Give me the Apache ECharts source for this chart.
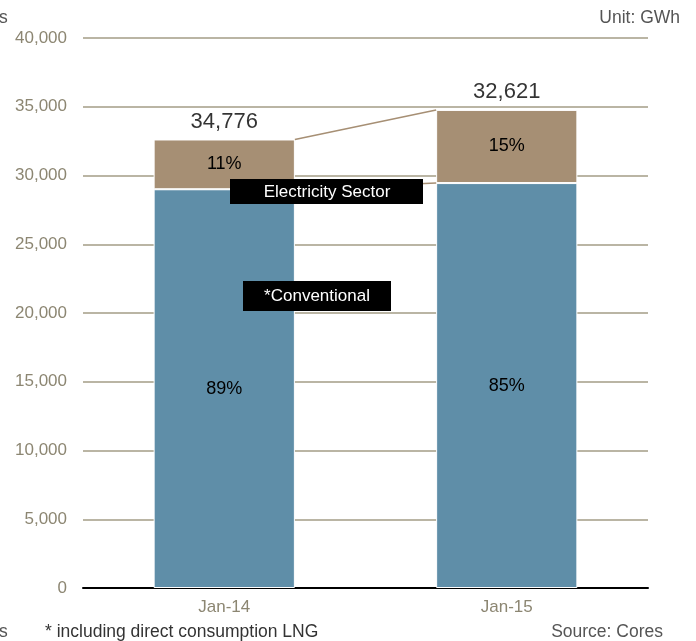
<!DOCTYPE html>
<html><head><meta charset="utf-8">
<script src="https://cdn.jsdelivr.net/npm/echarts@6/dist/echarts.min.js"></script>
<style>html,body{margin:0;padding:0;background:#fff}#c{width:696px;height:641px}</style>
</head><body><div id="c"></div>
<script>
var categories = ['Jan-14', 'Jan-15'];
var conventional = [29000, 29450];
var electricity = [3620, 5320];
var pctConventional = ['89%', '85%'];
var pctElectricity = ['11%', '15%'];
var totalLabels = ['34,776', '32,621'];
var yTicks = [0, 5000, 10000, 15000, 20000, 25000, 30000, 35000, 40000];

var totals = conventional.map(function (v, i) { return v + electricity[i]; });
var chart = echarts.init(document.getElementById('c'));
var font = 'Liberation Sans, Arial, sans-serif';
chart.setOption({
  animation: false,
  grid: { left: 83, right: 48, top: 38, bottom: 53 },
  xAxis: {
    type: 'category', data: categories,
    axisLine: { lineStyle: { color: '#000', width: 2 } },
    axisTick: { show: false },
    axisLabel: { color: '#8c8672', fontSize: 17, fontFamily: font, margin: 11 }
  },
  yAxis: {
    type: 'value', min: yTicks[0], max: yTicks[yTicks.length - 1], interval: 5000,
    axisLine: { show: false }, axisTick: { show: false },
    axisLabel: { color: '#8c8672', fontSize: 17, fontFamily: font, margin: 16,
      formatter: function (v) { return v.toLocaleString('en-US'); } },
    splitLine: { lineStyle: { color: '#a39c86', width: 1.6 } }
  },
  series: [
    { type: 'bar', stack: 's', barWidth: '50%', data: conventional,
      itemStyle: { color: '#5f8ea8', borderColor: '#fff', borderWidth: 1 },
      label: { show: true, position: 'inside', color: '#000', fontSize: 18, fontFamily: font,
        formatter: function (p) { return pctConventional[p.dataIndex]; } } },
    { type: 'bar', stack: 's', barWidth: '50%', data: electricity,
      itemStyle: { color: '#a68f74', borderColor: '#fff', borderWidth: 1 },
      label: { show: true, position: 'inside', color: '#000', fontSize: 18, fontFamily: font,
        formatter: function (p) { return pctElectricity[p.dataIndex]; } } },
    { type: 'scatter', symbolSize: 0, data: totals.map(function (t, i) { return [i, t]; }),
      label: { show: true, position: 'top', distance: 7, color: '#000', fontSize: 22, fontFamily: font,
        formatter: function (p) { return totalLabels[p.dataIndex]; } } }
  ]
});

function edge(i, v, side) {
  var p = chart.convertToPixel({ seriesIndex: 0 }, [i, v]);
  var band = chart.getModel().getComponent('xAxis', 0).axis.getBandWidth();
  return [p[0] + side * band * 0.25, p[1]];
}
var a1 = edge(0, totals[0], 1), b1 = edge(1, totals[1], -1);
var a2 = edge(0, conventional[0], 1), b2 = edge(1, conventional[1], -1);
var txt = function (x, y, s, align, color) {
  return { type: 'text', x: x, y: y, style: { text: s, fill: color || '#555', font: '17.5px ' + font, textAlign: align || 'left', textVerticalAlign: 'middle' } };
};
chart.setOption({
  graphic: [
    { type: 'line', shape: { x1: a1[0], y1: a1[1], x2: b1[0], y2: b1[1] }, style: { stroke: '#a68f74', lineWidth: 1.5 }, z: 5 },
    { type: 'line', shape: { x1: a2[0], y1: a2[1], x2: b2[0], y2: b2[1] }, style: { stroke: '#a68f74', lineWidth: 1.5 }, z: 5 },
    { type: 'rect', shape: { x: 230, y: 179, width: 193, height: 25 }, style: { fill: '#000' }, z: 10 },
    { type: 'text', x: 327, y: 192, z: 11, style: { text: 'Electricity Sector', fill: '#fff', font: '17px ' + font, textAlign: 'center', textVerticalAlign: 'middle' } },
    { type: 'rect', shape: { x: 243, y: 281, width: 148, height: 30 }, style: { fill: '#000' }, z: 10 },
    { type: 'text', x: 317, y: 296, z: 11, style: { text: '*Conventional', fill: '#fff', font: '17px ' + font, textAlign: 'center', textVerticalAlign: 'middle' } },
    txt(680, 18, 'Unit: GWh', 'right'),
    txt(-1, 18, 's', 'left'),
    txt(-1, 632, 's', 'left'),
    txt(45, 632, '* including direct consumption LNG', 'left', '#333'),
    txt(663, 632, 'Source: Cores', 'right')
  ]
});
</script></body></html>
